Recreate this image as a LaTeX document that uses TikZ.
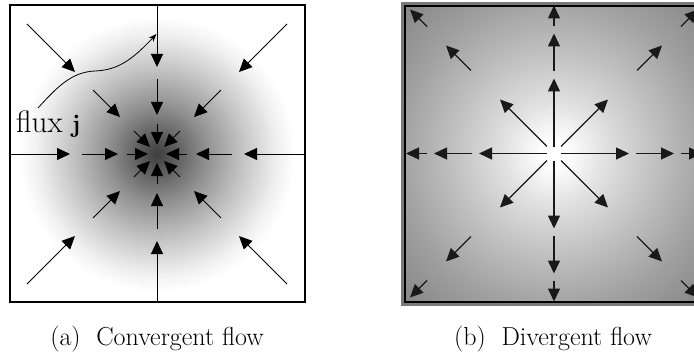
\documentclass[tikz,border=0pt]{standalone}
\usetikzlibrary{arrows.meta}
\pgfdeclareradialshading{convshade}{\pgfpoint{0bp}{0bp}}{color(0bp)=(black!76); color(3bp)=(black!64); color(8bp)=(black!44); color(14bp)=(black!24); color(20bp)=(black!6); color(23bp)=(white); color(25bp)=(white); color(50bp)=(white)}
\pgfdeclareradialshading{divshade}{\pgfpoint{0bp}{0bp}}{color(0bp)=(white); color(1.5bp)=(white); color(6bp)=(black!12); color(12bp)=(black!25); color(18bp)=(black!37); color(25bp)=(black!48); color(50bp)=(black!48)}
\begin{document}
\begin{tikzpicture}[x=1pt,y=-1pt,
  vecL/.style={-{Triangle[length=13pt,width=12pt]}, line width=1pt},
  vecR/.style={-{Triangle[length=13pt,width=12pt]}, line width=1.4pt, draw=black!90},
  frame/.style={line width=2pt},
  captext/.style={anchor=base, inner sep=0pt, font=\fontsize{26}{31}\selectfont}]
\useasboundingbox (0,0) rectangle (694,353);

% ---------- left panel: convergent ----------
\coordinate (cL) at (157,154);
\begin{scope}
  \clip (10,5) rectangle (305,302);
  \shade[shading=convshade] (cL) circle (150);
  \begin{scope}[shift={(cL)}]
    \foreach \a in {0,90,180,270} {
      \draw[vecL] (\a:152) -- (\a:87);
      \draw[vecL] (\a:75) -- (\a:39);
      \draw[vecL] (\a:30) -- (\a:9);
    }
    \foreach \a in {45,135,225,315} {
      \draw[vecL] (\a:184) -- (\a:116);
      \draw[vecL] (\a:90.5) -- (\a:52.3);
      \draw[vecL] (\a:32.5) -- (\a:10);
    }
  \end{scope}
\end{scope}
\draw[frame] (10,5) rectangle (305,302);

\node[anchor=base west, inner sep=0pt, font=\fontsize{31}{37}\selectfont] (flux) at (16,132) {flux $\mathbf{j}$};
\coordinate (fstart) at (38,108);
\coordinate (ftip) at (156.5,34);
\draw[-{Stealth[length=8pt,width=6pt]}, line width=0.8pt] (fstart) .. controls (58,86) and (72,72) .. (95,71) .. controls (118,70) and (132,60) .. (ftip);

\node[captext] (capa) at (157,345.5) {(a)\ \ Convergent flow};

% ---------- right panel: divergent ----------
\coordinate (cR) at (554,153.5);
\fill[black!52] (401,2) rectangle (710,306);
\begin{scope}
  \clip (405,6) rectangle (703,302);
  \shade[shading=divshade] (cR) circle (215);
  \begin{scope}[shift={(cR)}]
    \foreach \a in {0,90,180,270} {
      \draw[vecR] (\a:7) -- (\a:75);
      \draw[vecR] (\a:82) -- (\a:120);
      \draw[vecR] (\a:127) -- (\a:148);
    }
    \foreach \a in {45,135,225,315} {
      \draw[vecR] (\a:10) -- (\a:76.4);
      \draw[vecR] (\a:117.4) -- (\a:152.7);
      \draw[vecR] (\a:179.6) -- (\a:203.6);
    }
  \end{scope}
\end{scope}
\draw[frame] (405,6) rectangle (703,302);

\node[captext] (capb) at (553,345.5) {(b)\ \ Divergent flow};
\end{tikzpicture}
\end{document}
